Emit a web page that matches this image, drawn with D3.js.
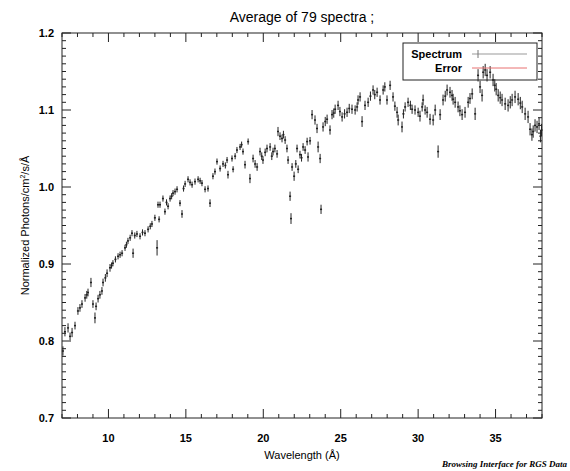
<!DOCTYPE html>
<html>
<head>
<meta charset="utf-8">
<script src="https://cdn.jsdelivr.net/npm/d3@7"></script>
<style>
  body { margin: 0; background: white; }
</style>
</head>
<body>
<div id="main"></div>
<script>
// spectrum points: [wavelength (A), normalized flux, error]
const spectrum = [
  [7.06, 0.787, 0.006], [7.19, 0.812, 0.006], [7.39, 0.817, 0.006], [7.52, 0.806, 0.005],
  [7.65, 0.811, 0.006], [7.84, 0.820, 0.005], [8.03, 0.839, 0.005], [8.16, 0.843, 0.005],
  [8.29, 0.848, 0.005], [8.49, 0.856, 0.005], [8.60, 0.860, 0.005], [8.68, 0.863, 0.005],
  [8.87, 0.876, 0.006], [9.00, 0.848, 0.005], [9.13, 0.830, 0.007], [9.20, 0.845, 0.005],
  [9.33, 0.855, 0.005], [9.45, 0.860, 0.005], [9.58, 0.865, 0.005], [9.65, 0.876, 0.005],
  [9.80, 0.882, 0.005], [9.91, 0.888, 0.005], [10.10, 0.895, 0.005], [10.20, 0.898, 0.004],
  [10.29, 0.901, 0.004], [10.45, 0.906, 0.004], [10.62, 0.910, 0.004], [10.75, 0.912, 0.004],
  [10.88, 0.914, 0.004], [11.07, 0.921, 0.004], [11.16, 0.925, 0.004], [11.26, 0.930, 0.004],
  [11.40, 0.934, 0.004], [11.52, 0.940, 0.004], [11.59, 0.914, 0.006], [11.70, 0.937, 0.004],
  [11.84, 0.939, 0.004], [12.04, 0.936, 0.004], [12.20, 0.941, 0.004], [12.36, 0.940, 0.004],
  [12.56, 0.945, 0.004], [12.70, 0.949, 0.004], [12.81, 0.952, 0.004], [13.00, 0.960, 0.004],
  [13.14, 0.921, 0.010], [13.20, 0.977, 0.004], [13.27, 0.958, 0.004], [13.33, 0.977, 0.004],
  [13.52, 0.985, 0.004], [13.65, 0.968, 0.004], [13.75, 0.980, 0.004], [13.85, 0.975, 0.004],
  [13.98, 0.985, 0.004], [14.08, 0.988, 0.004], [14.17, 0.992, 0.004], [14.30, 0.994, 0.004],
  [14.43, 0.997, 0.004], [14.62, 0.979, 0.004], [14.75, 0.965, 0.005], [14.85, 0.998, 0.004],
  [14.95, 1.004, 0.004], [15.14, 1.010, 0.004], [15.27, 1.006, 0.004], [15.40, 1.003, 0.004],
  [15.59, 1.007, 0.004], [15.79, 1.010, 0.004], [15.92, 1.008, 0.004], [16.04, 1.005, 0.004],
  [16.24, 0.997, 0.004], [16.43, 0.998, 0.004], [16.56, 0.979, 0.005], [16.75, 1.014, 0.004],
  [16.88, 1.020, 0.004], [17.01, 1.033, 0.004], [17.21, 1.024, 0.004], [17.40, 1.030, 0.004],
  [17.55, 1.028, 0.004], [17.66, 1.035, 0.004], [17.72, 1.016, 0.005], [17.98, 1.037, 0.004],
  [18.05, 1.023, 0.004], [18.18, 1.040, 0.004], [18.30, 1.048, 0.004], [18.50, 1.052, 0.004],
  [18.60, 1.055, 0.004], [18.69, 1.046, 0.004], [18.82, 1.029, 0.005], [19.02, 1.059, 0.004],
  [19.14, 1.011, 0.006], [19.34, 1.037, 0.005], [19.47, 1.030, 0.005], [19.60, 1.026, 0.005],
  [19.79, 1.046, 0.005], [19.90, 1.040, 0.005], [19.98, 1.035, 0.005], [20.12, 1.045, 0.005],
  [20.24, 1.050, 0.005], [20.44, 1.052, 0.005], [20.55, 1.040, 0.005], [20.63, 1.046, 0.005],
  [20.75, 1.050, 0.005], [20.89, 1.043, 0.005], [20.95, 1.072, 0.006], [21.08, 1.066, 0.005],
  [21.21, 1.063, 0.005], [21.30, 1.068, 0.005], [21.41, 1.061, 0.005], [21.53, 1.050, 0.005],
  [21.60, 1.035, 0.005], [21.73, 0.988, 0.006], [21.79, 0.959, 0.007], [21.86, 1.026, 0.005],
  [21.99, 1.014, 0.006], [22.10, 1.030, 0.005], [22.18, 1.050, 0.005], [22.25, 1.023, 0.005],
  [22.37, 1.042, 0.005], [22.47, 1.038, 0.005], [22.57, 1.052, 0.005], [22.70, 1.048, 0.005],
  [22.83, 1.059, 0.005], [22.89, 1.039, 0.006], [23.02, 1.060, 0.005], [23.15, 1.094, 0.006],
  [23.34, 1.087, 0.006], [23.47, 1.076, 0.006], [23.54, 1.052, 0.007], [23.67, 1.037, 0.006],
  [23.73, 0.971, 0.006], [23.86, 1.078, 0.006], [24.00, 1.085, 0.006], [24.12, 1.088, 0.006],
  [24.31, 1.074, 0.006], [24.44, 1.094, 0.006], [24.55, 1.096, 0.006], [24.64, 1.101, 0.006],
  [24.83, 1.106, 0.006], [24.95, 1.098, 0.006], [25.09, 1.091, 0.006], [25.25, 1.095, 0.006],
  [25.41, 1.097, 0.006], [25.55, 1.102, 0.006], [25.73, 1.101, 0.006], [25.93, 1.100, 0.006],
  [26.06, 1.104, 0.006], [26.12, 1.113, 0.006], [26.25, 1.117, 0.006], [26.38, 1.085, 0.007],
  [26.57, 1.106, 0.006], [26.77, 1.110, 0.006], [26.92, 1.118, 0.006], [27.09, 1.126, 0.006],
  [27.20, 1.120, 0.006], [27.35, 1.123, 0.006], [27.54, 1.113, 0.006], [27.74, 1.126, 0.006],
  [27.85, 1.130, 0.006], [27.99, 1.113, 0.006], [28.19, 1.132, 0.006], [28.38, 1.117, 0.006],
  [28.50, 1.105, 0.006], [28.64, 1.097, 0.007], [28.71, 1.087, 0.007], [28.96, 1.078, 0.007],
  [29.05, 1.095, 0.006], [29.16, 1.104, 0.006], [29.35, 1.110, 0.006], [29.50, 1.106, 0.006],
  [29.61, 1.101, 0.006], [29.80, 1.100, 0.006], [30.00, 1.097, 0.006], [30.12, 1.092, 0.007],
  [30.26, 1.104, 0.006], [30.32, 1.113, 0.007], [30.45, 1.100, 0.006], [30.58, 1.097, 0.007],
  [30.77, 1.088, 0.007], [30.97, 1.087, 0.007], [31.10, 1.100, 0.007], [31.29, 1.046, 0.008],
  [31.42, 1.094, 0.007], [31.61, 1.113, 0.007], [31.75, 1.118, 0.007], [31.87, 1.126, 0.007],
  [32.06, 1.123, 0.007], [32.19, 1.119, 0.007], [32.26, 1.114, 0.007], [32.39, 1.110, 0.007],
  [32.58, 1.104, 0.007], [32.70, 1.099, 0.007], [32.84, 1.094, 0.007], [33.03, 1.097, 0.007],
  [33.23, 1.110, 0.007], [33.35, 1.115, 0.007], [33.49, 1.121, 0.007], [33.68, 1.095, 0.008],
  [33.87, 1.145, 0.008], [34.00, 1.130, 0.008], [34.13, 1.119, 0.008], [34.20, 1.149, 0.008],
  [34.33, 1.152, 0.008], [34.45, 1.145, 0.008], [34.65, 1.149, 0.008], [34.84, 1.139, 0.008],
  [34.95, 1.132, 0.008], [35.04, 1.127, 0.008], [35.17, 1.119, 0.008], [35.30, 1.116, 0.008],
  [35.42, 1.113, 0.008], [35.62, 1.108, 0.008], [35.81, 1.106, 0.008], [35.95, 1.110, 0.008],
  [36.07, 1.113, 0.008], [36.26, 1.117, 0.008], [36.46, 1.114, 0.008], [36.60, 1.109, 0.008],
  [36.72, 1.104, 0.008], [36.91, 1.095, 0.008], [37.10, 1.091, 0.008], [37.23, 1.075, 0.008],
  [37.35, 1.068, 0.008], [37.43, 1.072, 0.008], [37.55, 1.080, 0.008], [37.68, 1.078, 0.008],
  [37.81, 1.082, 0.008], [37.90, 1.066, 0.008], [37.97, 1.074, 0.008]
];
const xMajorTicks = [10, 15, 20, 25, 30, 35];
const yMajorTicks = [0.7, 0.8, 0.9, 1.0, 1.1, 1.2];
const legendItems = ["Spectrum", "Error"];

const ctx = {
    width: 570,
    height: 471,
    left: 62,
    right: 542,
    top: 33,
    bottom: 418,
    sans: "'Liberation Sans', Arial, sans-serif",
    serif: "'Liberation Serif', 'Times New Roman', serif"
};

function createViz() {
    let svg = d3.select("#main").append("svg")
        .attr("width", ctx.width)
        .attr("height", ctx.height)
        .style("font-family", ctx.sans);

    const x = d3.scaleLinear().domain([7, 38]).range([ctx.left, ctx.right]);
    const y = d3.scaleLinear().domain([0.7, 1.2]).range([ctx.bottom, ctx.top]);

    svg.append("text")
        .attr("x", (ctx.left + ctx.right) / 2)
        .attr("y", 22)
        .attr("text-anchor", "middle")
        .attr("font-size", "14px")
        .text("Average of 79 spectra ;");

    let plot = svg.append("g");

    // data: vertical error bar with a small dash at the value
    let marks = plot.selectAll("g.pt").data(spectrum).enter().append("g").attr("class", "pt");
    marks.append("line")
        .attr("x1", d => x(d[0])).attr("x2", d => x(d[0]))
        .attr("y1", d => y(d[1] - d[2])).attr("y2", d => y(d[1] + d[2]))
        .attr("stroke", "#222").attr("stroke-width", 1);
    marks.append("line")
        .attr("x1", d => x(d[0]) - 1).attr("x2", d => x(d[0]) + 1)
        .attr("y1", d => y(d[1])).attr("y2", d => y(d[1]))
        .attr("stroke", "#222").attr("stroke-width", 1.5);

    // axes, ticks pointing inwards on all four sides
    const xMinor = d3.range(7, 39, 1).filter(v => xMajorTicks.indexOf(v) < 0);
    const yMinor = d3.range(70, 121, 1).map(v => v / 100).filter(v => yMajorTicks.every(t => Math.abs(t - v) > 1e-6));

    let axisG = svg.append("g").attr("stroke", "#222").attr("stroke-width", 1);
    axisG.append("rect")
        .attr("x", ctx.left).attr("y", ctx.top)
        .attr("width", ctx.right - ctx.left).attr("height", ctx.bottom - ctx.top)
        .attr("fill", "none");

    function xTick(v, len) {
        axisG.append("line").attr("x1", x(v)).attr("x2", x(v))
            .attr("y1", ctx.bottom).attr("y2", ctx.bottom - len);
        axisG.append("line").attr("x1", x(v)).attr("x2", x(v))
            .attr("y1", ctx.top).attr("y2", ctx.top + len);
    }
    function yTick(v, len) {
        axisG.append("line").attr("y1", y(v)).attr("y2", y(v))
            .attr("x1", ctx.left).attr("x2", ctx.left + len);
        axisG.append("line").attr("y1", y(v)).attr("y2", y(v))
            .attr("x1", ctx.right).attr("x2", ctx.right - len);
    }
    xMajorTicks.forEach(v => xTick(v, 9));
    xMinor.forEach(v => xTick(v, 4));
    yMajorTicks.forEach(v => yTick(v, 9));
    yMinor.forEach(v => yTick(v, 4));

    svg.selectAll("text.xt").data(xMajorTicks).enter().append("text")
        .attr("class", "xt")
        .attr("x", d => x(d)).attr("y", ctx.bottom + 24)
        .attr("text-anchor", "middle")
        .attr("font-size", "11px").attr("font-weight", "bold")
        .text(d => d);
    svg.selectAll("text.yt").data(yMajorTicks).enter().append("text")
        .attr("class", "yt")
        .attr("x", ctx.left - 8).attr("y", d => y(d) + 4)
        .attr("text-anchor", "end")
        .attr("font-size", "11px").attr("font-weight", "bold")
        .text(d => d3.format(".1f")(d));

    svg.append("text")
        .attr("x", (ctx.left + ctx.right) / 2).attr("y", 459)
        .attr("text-anchor", "middle")
        .attr("font-size", "11px")
        .text("Wavelength (Å)");

    let yl = svg.append("text")
        .attr("transform", "translate(29," + ((ctx.top + ctx.bottom) / 2) + ") rotate(-90)")
        .attr("text-anchor", "middle")
        .attr("font-size", "11px");
    yl.append("tspan").text("Normalized Photons/cm");
    yl.append("tspan").attr("dy", -4).attr("font-size", "7px").text("2");
    yl.append("tspan").attr("dy", 4).text("/s/Å");

    // legend
    let leg = svg.append("g");
    leg.append("rect")
        .attr("x", 403).attr("y", 43).attr("width", 134).attr("height", 37)
        .attr("fill", "none").attr("stroke", "#222").attr("stroke-width", 1);
    leg.selectAll("text").data(legendItems).enter().append("text")
        .attr("x", 462).attr("y", (d, i) => 58 + i * 14)
        .attr("text-anchor", "end")
        .attr("font-size", "11px").attr("font-weight", "bold")
        .text(d => d);
    leg.append("line").attr("x1", 472).attr("x2", 527).attr("y1", 54).attr("y2", 54)
        .attr("stroke", "#999").attr("stroke-width", 1);
    leg.append("line").attr("x1", 478).attr("x2", 478).attr("y1", 50).attr("y2", 58)
        .attr("stroke", "#777").attr("stroke-width", 1);
    leg.append("line").attr("x1", 472).attr("x2", 527).attr("y1", 68).attr("y2", 68)
        .attr("stroke", "#e87070").attr("stroke-width", 1);

    svg.append("text")
        .attr("x", 567).attr("y", 467)
        .attr("text-anchor", "end")
        .style("font-family", ctx.serif)
        .attr("font-style", "italic").attr("font-weight", "bold")
        .attr("font-size", "9px")
        .text("Browsing Interface for RGS Data");
}

createViz();
</script>
</body>
</html>
